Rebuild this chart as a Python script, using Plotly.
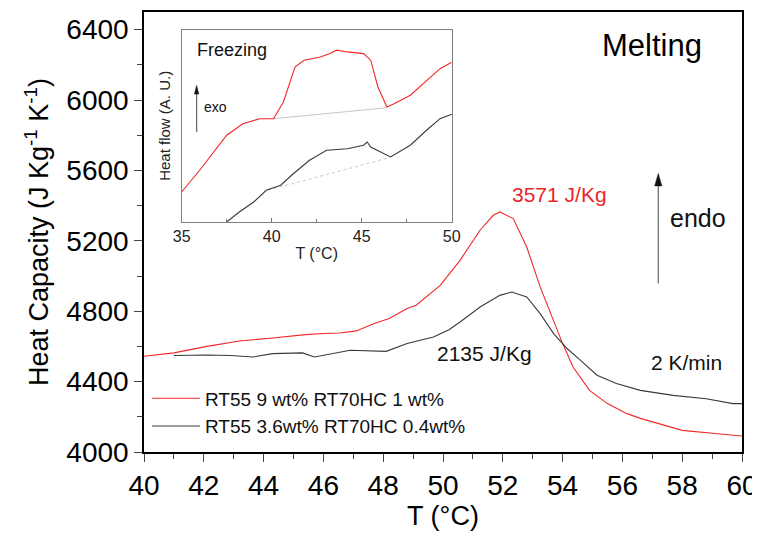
import plotly.graph_objects as go

# ---- Main panel data (Melting) ----
red_T = [40.0, 41.0, 42.1, 43.2, 44.3, 45.4, 46.0, 46.55, 47.1, 47.7, 48.2, 48.8, 49.1, 49.57,
         49.9, 50.57, 51.24, 51.68, 51.9, 52.35, 52.8, 53.25, 53.7, 54.0, 54.35, 54.9, 55.5,
         56.15, 56.6, 58.0, 59.1, 60.0]
red_V = [4544, 4563, 4600, 4631, 4648, 4667, 4673, 4676, 4688, 4730, 4758, 4815, 4834, 4900,
         4945, 5089, 5260, 5345, 5364, 5326, 5165, 4938, 4748, 4616, 4483, 4350, 4275,
         4218, 4191, 4123, 4105, 4091]

blk_T = [41.0, 42.1, 42.9, 43.65, 44.3, 45.3, 45.7, 46.9, 48.1, 48.8, 49.68, 50.2, 50.57, 51.24,
         51.9, 52.3, 52.8, 53.25, 53.7, 54.15, 54.6, 55.15, 55.8, 56.6, 57.7, 58.8, 59.7, 60.0]
blk_V = [4548, 4551, 4548, 4540, 4559, 4563, 4540, 4578, 4572, 4616, 4653, 4695, 4739, 4824,
         4890, 4909, 4881, 4786, 4673, 4588, 4521, 4436, 4389, 4350, 4322, 4303, 4275, 4275]

# ---- Inset data (Freezing), heat flow in arbitrary units ----
in_red_T = [35.0, 36.0, 37.5, 38.4, 39.35, 40.1, 40.65, 41.0, 41.3, 41.8, 42.7, 43.2, 43.6, 44.2,
            45.1, 45.5, 45.9, 46.4, 46.8, 47.7, 48.6, 49.35, 50.0]
in_red_U = [15.6, 26.9, 45.1, 51.1, 53.7, 53.7, 62.4, 71.9, 80.6, 84.1, 85.8, 87.5, 89.3, 88.4,
            87.5, 84.1, 70.2, 59.8, 61.5, 65.9, 73.7, 79.7, 83.0]
in_red_base_T = [40.1, 46.4]
in_red_base_U = [53.7, 59.4]

in_blk_T = [37.5, 38.2, 39.0, 39.7, 40.5, 41.2, 42.1, 43.05, 44.2, 45.1, 45.3, 45.5, 46.6, 47.7,
            48.6, 49.35, 50.0]
in_blk_U = [0.0, 5.2, 10.4, 16.5, 19.1, 25.1, 32.1, 37.3, 38.1, 39.9, 41.6, 39.0, 33.8, 39.9,
            47.7, 53.7, 56.0]
in_blk_base_T = [39.8, 46.6]
in_blk_base_U = [16.5, 33.6]

x_ticks = [40, 42, 44, 46, 48, 50, 52, 54, 56, 58, 60]
y_ticks = [4000, 4400, 4800, 5200, 5600, 6000, 6400]
inset_ticks = [35, 40, 45, 50]

legend_names = ["RT55 9 wt% RT70HC 1 wt%", "RT55 3.6wt% RT70HC 0.4wt%"]

FONT = "Liberation Sans, Arial, sans-serif"
RED = "#f02828"
DARK = "#3a3a3a"

fig = go.Figure()
fig.add_trace(go.Scatter(x=red_T, y=red_V, mode="lines", name=legend_names[0],
                         line=dict(color=RED, width=1.1)))
fig.add_trace(go.Scatter(x=blk_T, y=blk_V, mode="lines", name=legend_names[1],
                         line=dict(color=DARK, width=1.1)))

# inset traces
fig.add_trace(go.Scatter(x=in_red_base_T, y=in_red_base_U, mode="lines", xaxis="x2", yaxis="y2",
                         line=dict(color="#c8c8c8", width=1), showlegend=False))
fig.add_trace(go.Scatter(x=in_blk_base_T, y=in_blk_base_U, mode="lines", xaxis="x2", yaxis="y2",
                         line=dict(color="#c8c8c8", width=1, dash="dot"), showlegend=False))
fig.add_trace(go.Scatter(x=in_red_T, y=in_red_U, mode="lines", xaxis="x2", yaxis="y2",
                         line=dict(color=RED, width=1.1), showlegend=False))
fig.add_trace(go.Scatter(x=in_blk_T, y=in_blk_U, mode="lines", xaxis="x2", yaxis="y2",
                         line=dict(color=DARK, width=1.1), showlegend=False))

fig.update_layout(
    width=752, height=526,
    margin=dict(l=136, r=18, t=4, b=82, autoexpand=False),
    paper_bgcolor="white", plot_bgcolor="white",
    font=dict(family=FONT, color="black"),
    showlegend=True,
    legend=dict(x=0.005, y=0.165, xanchor="left", yanchor="top", bgcolor="rgba(0,0,0,0)",
                font=dict(size=19, color="#111"), itemwidth=48, tracegroupgap=0),
    xaxis=dict(range=[40, 60], tickvals=x_ticks, ticks="outside", ticklen=8, tickwidth=1.2,
               showline=True, linecolor="black", linewidth=1.5, mirror=True, showgrid=False,
               zeroline=False, tickfont=dict(size=28), automargin=False,
               minor=dict(dtick=1, ticks="outside", ticklen=5, tickwidth=1),
               title=dict(text="T (°C)", font=dict(size=27), standoff=5)),
    yaxis=dict(range=[4000, 6500], tickvals=y_ticks, ticks="outside", ticklen=8, tickwidth=1.2,
               showline=True, linecolor="black", linewidth=1.5, mirror=True, showgrid=False,
               zeroline=False, tickfont=dict(size=28), automargin=False,
               minor=dict(dtick=200, ticks="outside", ticklen=5, tickwidth=1),
               title=dict(text="Heat Capacity (J Kg<sup>-1</sup> K<sup>-1</sup>)",
                          font=dict(size=27), standoff=10)),
    xaxis2=dict(domain=[0.063, 0.5146], anchor="y2", range=[35, 50], tickvals=inset_ticks,
                ticks="inside", ticklen=4, tickcolor="#777", showline=True, linecolor="#808080",
                linewidth=1.2, mirror=True, showgrid=False, zeroline=False, automargin=False,
                tickfont=dict(size=16, color="#222"),
                minor=dict(dtick=2.5, ticks="inside", ticklen=3, tickcolor="#777"),
                title=dict(text="T (°C)", font=dict(size=16, color="#222"), standoff=3)),
    yaxis2=dict(domain=[0.5227, 0.96], anchor="x2", range=[0, 100], showticklabels=False,
                ticks="", showline=True, linecolor="#808080", linewidth=1.2, mirror=True,
                showgrid=False, zeroline=False, automargin=False,
                title=dict(text="Heat flow (A. U.)", font=dict(size=15, color="#222"), standoff=6)),
)

ann = [
    dict(x=57.0, y=6311, xref="x", yref="y", text="Melting", showarrow=False,
         font=dict(size=31, color="black")),
    dict(x=53.91, y=5464, xref="x", yref="y", text="3571 J/Kg", showarrow=False,
         font=dict(size=21, color="#e8262a")),
    dict(x=51.4, y=4561, xref="x", yref="y", text="2135 J/Kg", showarrow=False,
         font=dict(size=21, color="#111")),
    dict(x=58.13, y=4510, xref="x", yref="y", text="2 K/min", showarrow=False,
         font=dict(size=21, color="#111")),
    dict(x=58.53, y=5328, xref="x", yref="y", text="endo", showarrow=False,
         font=dict(size=25, color="#111")),
    dict(x=35.74, y=89.6, xref="x2", yref="y2", text="Freezing", showarrow=False,
         xanchor="left", font=dict(size=18, color="#111")),
    dict(x=36.11, y=59.6, xref="x2", yref="y2", text="exo", showarrow=False,
         xanchor="left", font=dict(size=14, color="#111")),
]
fig.update_layout(annotations=ann)

# arrows drawn as shapes (shaft + head)
def arrow(xref, yref, x, y0, y1, dx, dy, color):
    return [
        dict(type="line", xref=xref, yref=yref, x0=x, x1=x, y0=y0, y1=y1 - dy * 0.6,
             line=dict(color=color, width=1.2)),
        dict(type="path", xref=xref, yref=yref,
             path=f"M {x - dx} {y1 - dy} L {x + dx} {y1 - dy} L {x} {y1} Z",
             fillcolor="#111", line=dict(color="#111", width=0.5)),
    ]

shapes = arrow("x", "y", 57.2, 4957, 5582, 0.12, 70, "#666") + \
         arrow("x2", "y2", 35.83, 46.8, 71.0, 0.12, 4.5, "#666")
fig.update_layout(shapes=shapes)

fig.write_html("out.html")
